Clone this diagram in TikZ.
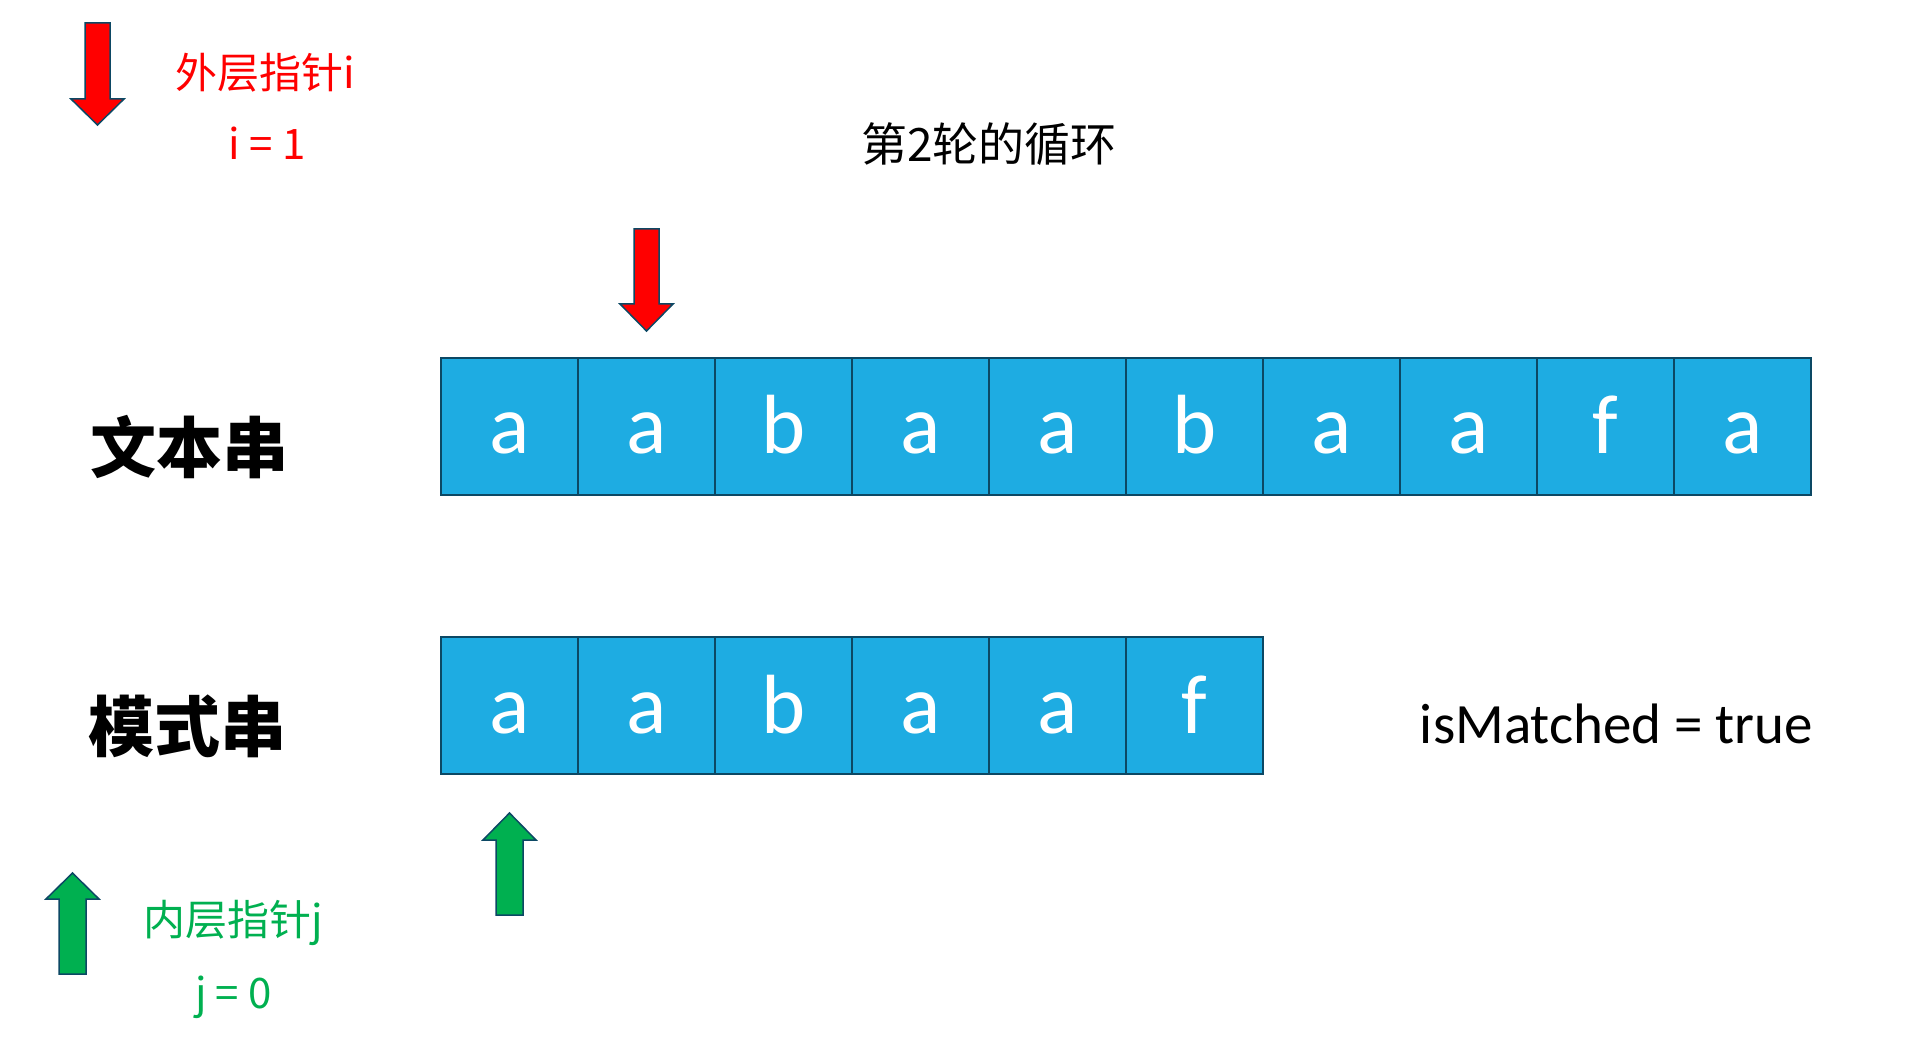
\documentclass[tikz,border=0pt]{standalone}
\usepackage{fontspec}
\setmainfont{Carlito}
\newfontfamily\cjk{Noto Sans CJK SC}
\definecolor{cellblue}{RGB}{30,172,226}
\definecolor{celledge}{RGB}{12,72,100}
\definecolor{ptrred}{RGB}{255,0,0}
\definecolor{ptrgreen}{RGB}{0,176,80}
\tikzset{
	cell/.style={draw=celledge, fill=cellblue, line width=1pt, minimum size=68.5pt, inner sep=0pt, outer sep=0pt, text=white, font=\fontsize{42}{50}\selectfont, text height=30pt, text depth=2.5pt},
	redptr/.style={fill=ptrred, draw=celledge, line width=0.75pt},
	greenptr/.style={fill=ptrgreen, draw=celledge, line width=0.75pt},
	rowlabel/.style={font=\cjk\bfseries\fontsize{33}{40}\selectfont},
	ptrlabel/.style={font=\cjk\fontsize{21}{25}\selectfont},
}
\begin{document}
\begin{tikzpicture}[x=0.5pt, y=-0.5pt]
		\useasboundingbox (0,0) rectangle (1916,1058);

		\draw[redptr] (85,23) -- (110,23) -- (110,99) -- (124,99) -- (97.5,125) -- (71,99) -- (85,99) -- cycle;
		\node[ptrlabel, text=ptrred] (outer) at (265.5,73) {外层指针i};
		\node[ptrlabel, text=ptrred] (outerval) at (267,143) {i = 1};

		\node[font=\cjk\fontsize{23}{28}\selectfont] (round) at (989,144) {第2轮的循环};

		\draw[redptr] (634,229) -- (659,229) -- (659,304) -- (673,304) -- (646.5,331) -- (620,304) -- (634,304) -- cycle;

		\node[rowlabel] (textlabel) at (189,447) {文本串};
		\foreach \ch [count=\k from 0] in {a,a,b,a,a,b,a,a,f,a}
			\node[cell] (t\k) at ({509.5+137*\k},426.5) {\ch};

		\node[rowlabel] (patlabel) at (187.5,726) {模式串};
		\foreach \ch [count=\k from 0] in {a,a,b,a,a,f}
			\node[cell] (p\k) at ({509.5+137*\k},705.5) {\ch};

		\node[anchor=base, font=\fontsize{28.5}{34}\selectfont] (matched) at (1616.5,743) {isMatched = true};

		\draw[greenptr] (509.5,813) -- (536,840) -- (523,840) -- (523,915) -- (496,915) -- (496,840) -- (483,840) -- cycle;

		\draw[greenptr] (72.5,873) -- (99,899) -- (86,899) -- (86,974) -- (59,974) -- (59,899) -- (46,899) -- cycle;
		\node[ptrlabel, text=ptrgreen] (inner) at (233,923) {内层指针j};
		\node[ptrlabel, text=ptrgreen] (innerval) at (233.5,997) {j = 0};
	\end{tikzpicture}
\end{document}
